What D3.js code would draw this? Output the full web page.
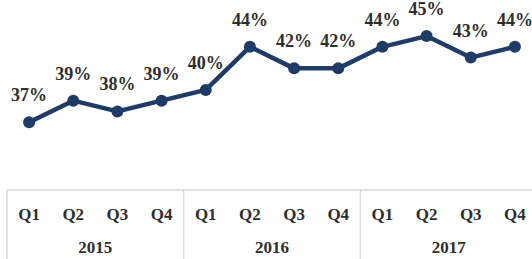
<!DOCTYPE html>
<html>
<head>
<meta charset="utf-8">
<script src="https://cdn.jsdelivr.net/npm/d3@7"></script>
<style>
  body { margin: 0; background: #fff; }
  svg text { font-family: "Liberation Serif", "Times New Roman", serif; font-weight: bold; fill: #2e2e2e; }
</style>
</head>
<body>
<div id="chart"></div>
<script>
/* DATA */
const years = ["2015", "2016", "2017"];
const quarters = ["Q1", "Q2", "Q3", "Q4"];
const share = [37, 39, 38, 39, 40, 44, 42, 42, 44, 45, 43, 44];

/* CONSTANTS */
const width = 532,
  height = 259,
  axisTop = 190,
  lineColor = "#1f3b66",
  gridColor = "#d9d9d9";

const keys = years.flatMap(y => quarters.map(q => y + " " + q));
const data = keys.map((k, i) => ({ key: k, year: k.split(" ")[0], q: k.split(" ")[1], value: share[i] }));

const svg = d3.select("#chart")
  .append("svg")
  .attr("width", width)
  .attr("height", height);

const xScale = d3.scaleBand()
  .domain(keys)
  .range([7, 537])
  .padding(0);

const yScale = d3.scaleLinear()
  .domain([30.7, 48.35])
  .range([axisTop, 0]);

const cx = d => xScale(d.key) + xScale.bandwidth() / 2;

// category axis: quarter labels
const xAxis = d3.axisBottom(xScale)
  .tickSize(0)
  .tickFormat(d => d.split(" ")[1]);

const axisG = svg.append("g")
  .attr("transform", `translate(0, ${axisTop})`)
  .call(xAxis);
axisG.select(".domain").remove();
axisG.selectAll("text")
  .attr("y", 30)
  .attr("dy", 0)
  .style("font-size", "17px")
  .style("font-family", null);

// grouping box lines
svg.append("line")
  .attr("x1", xScale.range()[0])
  .attr("x2", xScale.range()[1])
  .attr("y1", axisTop)
  .attr("y2", axisTop)
  .attr("stroke", gridColor)
  .attr("stroke-width", 1.5);

const bounds = years.map(y => xScale(y + " Q1")).concat([xScale.range()[1]]);
svg.selectAll(".group-sep")
  .data(bounds)
  .join("line")
  .attr("class", "group-sep")
  .attr("x1", d => d)
  .attr("x2", d => d)
  .attr("y1", axisTop)
  .attr("y2", height)
  .attr("stroke", gridColor)
  .attr("stroke-width", 1.5);

svg.selectAll(".year-label")
  .data(years)
  .join("text")
  .attr("class", "year-label")
  .attr("x", y => xScale(y + " Q1") + xScale.bandwidth() * 2)
  .attr("y", 253)
  .attr("text-anchor", "middle")
  .style("font-size", "17px")
  .text(y => y);

// line
const line = d3.line()
  .x(cx)
  .y(d => yScale(d.value));

svg.append("path")
  .datum(data)
  .attr("fill", "none")
  .attr("stroke", lineColor)
  .attr("stroke-width", 4.5)
  .attr("stroke-linejoin", "round")
  .attr("d", line);

svg.selectAll(".dot")
  .data(data)
  .join("circle")
  .attr("class", "dot")
  .attr("cx", cx)
  .attr("cy", d => yScale(d.value))
  .attr("r", 6)
  .attr("fill", lineColor);

svg.selectAll(".value-label")
  .data(data)
  .join("text")
  .attr("class", "value-label")
  .attr("x", cx)
  .attr("y", d => yScale(d.value) - 21)
  .attr("text-anchor", "middle")
  .style("font-size", "18px")
  .text(d => d.value + "%");
</script>
</body>
</html>
